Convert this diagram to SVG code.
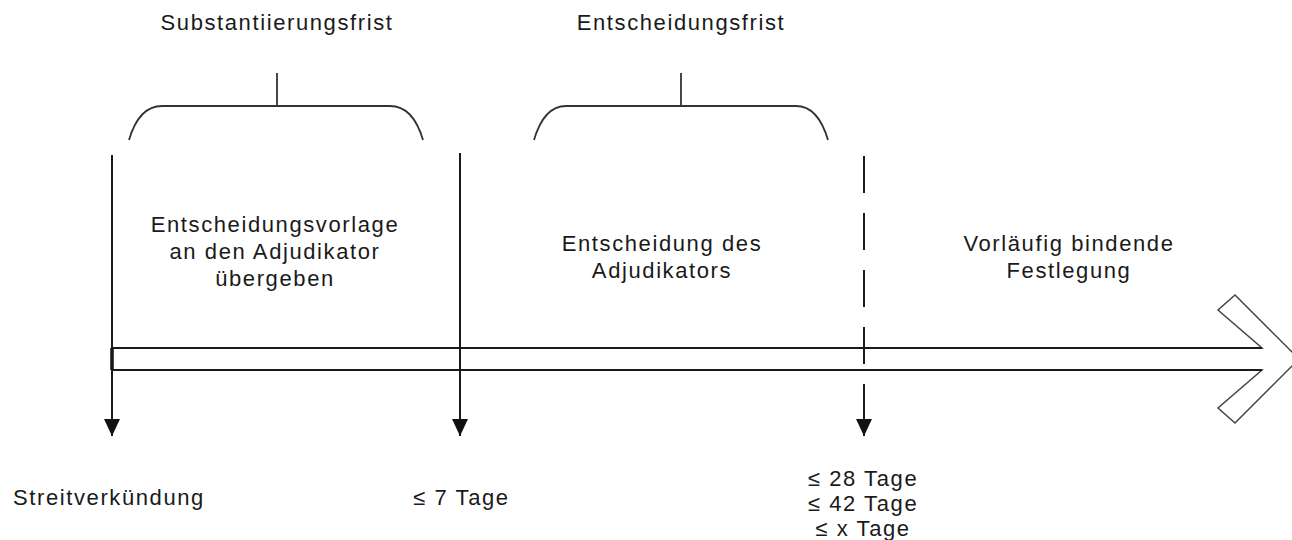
<svg xmlns="http://www.w3.org/2000/svg" width="1292" height="540" viewBox="0 0 1292 540">
<style>
text{font-family:"Liberation Sans",Arial,sans-serif;font-size:22px;fill:#1a1a1a;letter-spacing:1.6px}
.m{text-anchor:middle}
.ln{stroke:#1a1a1a;stroke-width:2;fill:none}
.br{stroke:#333;stroke-width:1.8;fill:none}
</style>
<defs>
<marker id="ah" viewBox="0 0 17 16" refX="17" refY="8" markerWidth="17" markerHeight="16" markerUnits="userSpaceOnUse" orient="auto">
<path d="M0,0 L17,8 L0,16 Z" fill="#111"/>
</marker>
</defs>
<rect width="1292" height="540" fill="#fff"/>

<g id="timeline">
<polygon points="112,348 1262,348 1218,310 1235,295 1299,359 1235,423 1218,408 1262,370 112,370" fill="#fff" stroke="#444" stroke-width="1.5"/>
<line x1="112" y1="348" x2="1262" y2="348" stroke="#1a1a1a" stroke-width="1.8"/>
<line x1="112" y1="370" x2="1262" y2="370" stroke="#1a1a1a" stroke-width="1.8"/>
<line x1="112" y1="348" x2="112" y2="370" stroke="#111" stroke-width="3.5"/>
</g>

<g id="connectors">
<line class="ln" x1="112" y1="155" x2="112" y2="436" marker-end="url(#ah)"/>
<line class="ln" x1="460" y1="153" x2="460" y2="436" marker-end="url(#ah)"/>
<line class="ln" x1="864" y1="156" x2="864" y2="420" stroke-dasharray="37 20"/>
<line class="ln" x1="864" y1="412" x2="864" y2="436" marker-end="url(#ah)"/>
</g>

<g id="brace1">
<path class="br" d="M129,140 Q139,106 162,106 L390,106 Q413,106 423,140"/>
<line class="br" x1="277" y1="73" x2="277" y2="106"/>
<text class="m" x="277" y="30">Substantiierungsfrist</text>
</g>

<g id="brace2">
<path class="br" d="M534,140 Q544,106 566,106 L796,106 Q818,106 828,140"/>
<line class="br" x1="681" y1="73" x2="681" y2="106"/>
<text class="m" x="681" y="30">Entscheidungsfrist</text>
</g>

<g id="phase1">
<text class="m" x="275" y="232">Entscheidungsvorlage</text>
<text class="m" x="275" y="259">an den Adjudikator</text>
<text class="m" x="275" y="286">übergeben</text>
</g>

<g id="phase2">
<text class="m" x="662" y="251">Entscheidung des</text>
<text class="m" x="662" y="278">Adjudikators</text>
</g>

<g id="phase3">
<text class="m" x="1069" y="251">Vorläufig bindende</text>
<text class="m" x="1069" y="278">Festlegung</text>
</g>

<g id="label-start">
<text x="13" y="505">Streitverkündung</text>
</g>

<g id="label-7">
<text x="413" y="505">≤ 7 Tage</text>
</g>

<g id="label-28">
<text class="m" x="863" y="486">≤ 28 Tage</text>
<text class="m" x="863" y="511">≤ 42 Tage</text>
<text class="m" x="863" y="536">≤ x Tage</text>
</g>
</svg>
